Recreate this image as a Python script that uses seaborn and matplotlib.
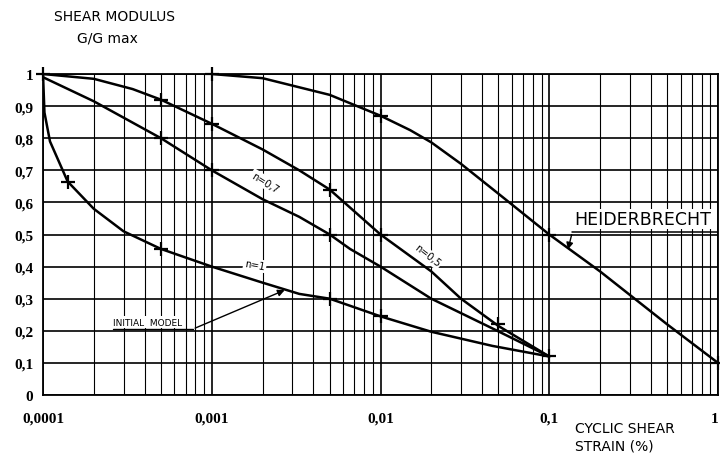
import pandas as pd
import seaborn as sns
import matplotlib.pyplot as plt
from matplotlib.ticker import FixedLocator, LogLocator, NullFormatter

# Curves: cyclic shear strain (%) vs G/Gmax
heid_x = [0.001, 0.002, 0.005, 0.01, 0.015, 0.02, 0.03, 0.05, 0.1, 0.2, 0.5, 1]
heid_y = [1.0, 0.987, 0.935, 0.87, 0.825, 0.787, 0.72, 0.627, 0.5, 0.385, 0.22, 0.1]

n05_x = [0.0001, 0.0002, 0.00034, 0.0005, 0.001, 0.002, 0.0033, 0.005, 0.01, 0.02, 0.03, 0.05, 0.1]
n05_y = [1.0, 0.985, 0.953, 0.92, 0.845, 0.765, 0.70, 0.64, 0.5, 0.385, 0.30, 0.215, 0.12]

n07_x = [0.0001, 0.0002, 0.0005, 0.001, 0.002, 0.0033, 0.005, 0.0066, 0.01, 0.02, 0.045, 0.1]
n07_y = [0.99, 0.915, 0.80, 0.70, 0.61, 0.555, 0.5, 0.455, 0.40, 0.30, 0.21, 0.12]

n1_x = [0.0001, 0.000102, 0.00011, 0.00014, 0.0002, 0.0003, 0.0005, 0.001, 0.002, 0.0033, 0.005, 0.01, 0.02, 0.046, 0.1]
n1_y = [1.0, 0.88, 0.79, 0.665, 0.58, 0.51, 0.455, 0.40, 0.35, 0.315, 0.30, 0.245, 0.197, 0.153, 0.12]

# "+" marks drawn on the curves
mark_x = [0.0001, 0.001, 0.01, 0.1, 1,
          0.0005, 0.001, 0.005, 0.01, 0.05, 0.1,
          0.0005, 0.001, 0.005,
          0.00014, 0.0005, 0.005, 0.01]
mark_y = [1.0, 1.0, 0.87, 0.5, 0.1,
          0.92, 0.845, 0.64, 0.5, 0.22, 0.12,
          0.80, 0.70, 0.5,
          0.665, 0.455, 0.30, 0.245]

x_ticks = [0.0001, 0.001, 0.01, 0.1, 1]
x_labels = ['0,0001', '0,001', '0,01', '0,1', '1']
y_ticks = [0, 0.1, 0.2, 0.3, 0.4, 0.5, 0.6, 0.7, 0.8, 0.9, 1.0]
y_labels = ['0', '0,1', '0,2', '0,3', '0,4', '0,5', '0,6', '0,7', '0,8', '0,9', '1']

sns.set_style('white')
plt.rcParams['font.family'] = ['DejaVu Sans']
plt.rcParams['text.color'] = 'black'
plt.rcParams['xtick.color'] = 'black'
plt.rcParams['ytick.color'] = 'black'

fig = plt.figure(figsize=(7.2, 4.56), dpi=100)
ax = fig.add_axes([43 / 720, 60 / 456, 675 / 720, 321 / 456])

for cx, cy in [(heid_x, heid_y), (n05_x, n05_y), (n07_x, n07_y), (n1_x, n1_y)]:
    sns.lineplot(x=cx, y=cy, ax=ax, color='black', lw=1.8, sort=False,
                 estimator=None, zorder=4)

sns.scatterplot(x=mark_x, y=mark_y, ax=ax, marker='+', s=90, color='black',
                linewidth=1.6, zorder=5, clip_on=False)

ax.set_xscale('log')
ax.set_xlim(0.0001, 1)
ax.set_ylim(0, 1)

ax.xaxis.set_major_locator(FixedLocator(x_ticks))
ax.set_xticklabels(x_labels)
ax.xaxis.set_minor_locator(LogLocator(base=10, subs=range(2, 10)))
ax.xaxis.set_minor_formatter(NullFormatter())
ax.yaxis.set_major_locator(FixedLocator(y_ticks))
ax.set_yticklabels(y_labels)

ax.grid(which='major', color='black', lw=1.2)
ax.grid(which='minor', axis='x', color='black', lw=0.8)
ax.tick_params(axis='x', which='major', length=0, pad=12)
ax.tick_params(axis='y', which='major', length=0, pad=7)
ax.tick_params(axis='x', which='minor', length=0)
for lab in ax.get_xticklabels() + ax.get_yticklabels():
    lab.set_family('Liberation Serif')
    lab.set_fontweight('bold')
    lab.set_fontsize(11)
ax.get_xticklabels()[-1].set_horizontalalignment('right')
for sp in ax.spines.values():
    sp.set_color('black')
    sp.set_linewidth(1.3)
ax.set_xlabel('')
ax.set_ylabel('')

# curve labels
lab_box = dict(fc='white', ec='none', pad=1)
ax.text(0.00207, 0.663, 'n=0,7', rotation=-32, fontsize=7, ha='center',
        va='center', bbox=lab_box, zorder=6)
ax.text(0.019, 0.435, 'n=0,5', rotation=-38, fontsize=7, ha='center',
        va='center', bbox=lab_box, zorder=6)
ax.text(0.0018, 0.405, 'n=1', rotation=-10, fontsize=7, ha='center',
        va='center', bbox=lab_box, zorder=6)

# initial model leader
ax.text(0.00026, 0.213, 'INITIAL  MODEL', fontsize=6.5, ha='left', va='bottom',
        bbox=lab_box, zorder=6)
ax.plot([0.00026, 0.00077], [0.205, 0.205], color='black', lw=1)
ax.annotate('', xy=(0.0028, 0.33), xytext=(0.00077, 0.205),
            arrowprops=dict(arrowstyle='-|>', color='black', lw=1,
                            mutation_scale=10))

# Heiderbrecht leader
ax.text(0.14, 0.52, 'HEIDERBRECHT', fontsize=12.5, ha='left',
        va='bottom', bbox=dict(fc='white', ec='none', pad=1), zorder=6)
ax.plot([0.137, 1], [0.508, 0.508], color='black', lw=1.1, zorder=6)
ax.annotate('', xy=(0.128, 0.445), xytext=(0.137, 0.508),
            arrowprops=dict(arrowstyle='-|>', color='black', lw=1,
                            mutation_scale=10), zorder=6)

fig.text(114 / 720, 1 - 17 / 456, 'SHEAR MODULUS', fontsize=10, ha='center',
         va='center')
fig.text(107 / 720, 1 - 39 / 456, 'G/G max', fontsize=10, ha='center',
         va='center')
fig.text(575 / 720, 1 - 429 / 456, 'CYCLIC SHEAR', fontsize=10, ha='left',
         va='center')
fig.text(575 / 720, 1 - 447 / 456, 'STRAIN (%)', fontsize=10, ha='left',
         va='center')

fig.savefig('out.png', dpi=100)
